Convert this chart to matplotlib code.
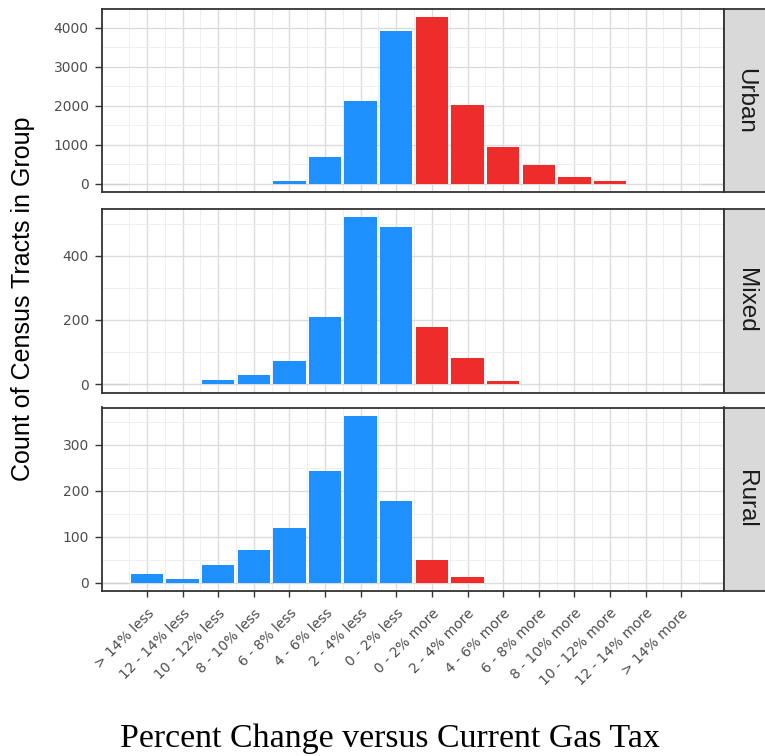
import numpy as np
import matplotlib
matplotlib.use("Agg")
import matplotlib.pyplot as plt
from matplotlib.ticker import MultipleLocator, FixedLocator

# bins of percent change, left to right
categories = ["> 14% less", "12 - 14% less", "10 - 12% less", "8 - 10% less",
              "6 - 8% less", "4 - 6% less", "2 - 4% less", "0 - 2% less",
              "0 - 2% more", "2 - 4% more", "4 - 6% more", "6 - 8% more",
              "8 - 10% more", "10 - 12% more", "12 - 14% more", "> 14% more"]

groups = ["Urban", "Mixed", "Rural"]

# counts of census tracts per bin
urban = [0, 0, 0, 0, 85, 690, 2115, 3920, 4270, 2015, 950, 475, 180, 70, 0, 0]
mixed = [0, 0, 13, 27, 71, 208, 520, 490, 177, 81, 10, 0, 0, 0, 0, 0]
rural = [18, 9, 38, 72, 118, 243, 363, 177, 49, 12, 0, 0, 0, 0, 0, 0]

y_steps = [1000, 200, 100]

blue = "#1E90FF"
red = "#EE2C2C"
dark = "#333333"
tick_grey = "#4d4d4d"

fig = plt.figure(figsize=(7.65, 7.56), dpi=100)

W, H = 765.0, 756.0
left = 101.7 / W
width = (724 - 101.7) / W
bottoms = [1 - 192.3 / H, 1 - 392.5 / H, 1 - 591 / H]
height = 183.5 / H

x = np.arange(len(categories))
colors = [blue if c.endswith("less") else red for c in categories]

for i, (name, counts, step) in enumerate(zip(groups, [urban, mixed, rural], y_steps)):
    ax = fig.add_axes([left, bottoms[i], width, height])
    ax.set_axisbelow(True)

    ax.bar(x, counts, width=0.91, color=colors, linewidth=0)
    # empty edge bins that show up as faint lines at zero
    ax.bar([-1, len(categories)], [0, 0], width=0.91, color="none",
           edgecolor="#d0d0d0", linewidth=1.0)

    top = max(counts)
    ax.set_ylim(-0.05 * top, 1.05 * top)
    ax.set_xlim(-1.27, 16.2)

    ax.xaxis.set_major_locator(FixedLocator(x))
    ax.xaxis.set_minor_locator(FixedLocator(np.arange(-0.5, len(categories), 1.0)))
    ax.yaxis.set_major_locator(MultipleLocator(step))
    ax.yaxis.set_minor_locator(MultipleLocator(step / 2))

    ax.grid(which="major", color="#dcdcdc", linewidth=1.0)
    ax.grid(which="minor", color="#ededed", linewidth=0.6)

    for s in ax.spines.values():
        s.set_color(dark)
        s.set_linewidth(1.3)

    ax.tick_params(which="minor", length=0)
    ax.tick_params(axis="y", which="major", length=4.8, width=1.0, color=dark,
                   labelsize=10, labelcolor=tick_grey, pad=4.5)
    for lab in ax.get_yticklabels():
        lab.set_family("DejaVu Sans")

    if i < len(groups) - 1:
        ax.tick_params(axis="x", which="major", length=0, labelbottom=False)
    else:
        ax.tick_params(axis="x", which="major", length=4.5, width=1.0, color=dark,
                       labelsize=10, labelcolor=tick_grey, pad=6.5)
        ax.set_xticklabels(categories, rotation=45, ha="right", va="top",
                           rotation_mode="anchor")

    # facet strip on the right
    st = fig.add_axes([724 / W, bottoms[i], 0.06, height])
    st.set_facecolor("#d9d9d9")
    st.set_xticks([])
    st.set_yticks([])
    for s in st.spines.values():
        s.set_color(dark)
        s.set_linewidth(1.3)
    st.text(0.47, 0.5, name, rotation=-90, ha="center", va="center",
            family="Liberation Sans", fontsize=17.5, color="#1a1a1a",
            transform=st.transAxes)

fig.text(23.5 / W, 1 - 299 / H, "Count of Census Tracts in Group", rotation=90,
         ha="center", va="center", family="Liberation Sans", fontsize=18,
         color="black")
fig.text(390 / W, 1 - 747 / H, "Percent Change versus Current Gas Tax",
         ha="center", va="baseline", family="Liberation Serif", fontsize=24.4,
         color="black")

fig.savefig("out.png", dpi=100, facecolor="white")
